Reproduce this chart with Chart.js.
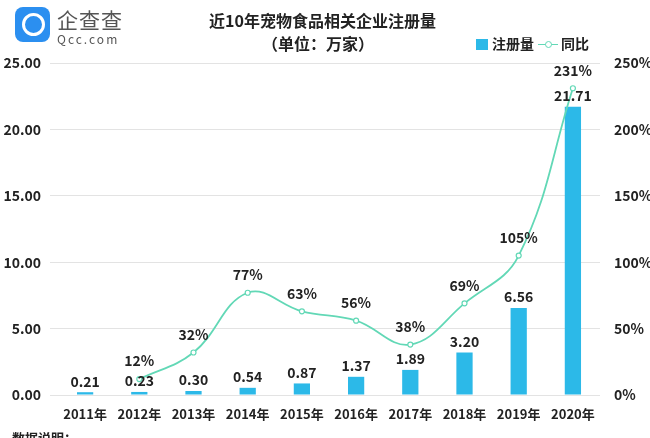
<!DOCTYPE html>
<html>
<head>
<meta charset="utf-8">
<script src="https://cdn.jsdelivr.net/npm/chart.js@4/dist/chart.umd.min.js"></script>
<style>
  html, body { margin: 0; padding: 0; background: #fff; }
  body { width: 650px; height: 438px; position: relative; overflow: hidden;
         font-family: "Noto Sans CJK SC", "Noto Sans", sans-serif; color: #222; }
  #wrap { position: absolute; left: 0; top: 0; width: 650px; height: 438px; }
  .logo-icon { position: absolute; left: 15px; top: 7px; width: 35px; height: 35px;
               border-radius: 8px; background: #2b8ff0; }
  .logo-icon span { position: absolute; left: 7px; top: 6px; width: 17px; height: 17px;
                    border: 3px solid #fff; border-radius: 50%; }
  .logo-cn { position: absolute; left: 57px; top: 4px; font-size: 21px; color: #555; letter-spacing: 1px; }
  .logo-en { position: absolute; left: 57px; top: 30px; font-size: 12px; color: #555; letter-spacing: 2px; }
  .title { position: absolute; width: 300px; text-align: left; font-weight: bold; color: #222; }
  .t1 { top: 8px; font-size: 16px; left: 209px; }
  .t2 { top: 31px; font-size: 16px; left: 262px; }
  .legend { position: absolute; left: 476px; top: 33px; font-size: 14px; font-weight: bold; color: #222; }
  .legend .box { display: inline-block; width: 12px; height: 11px; background: #2cb9e8; vertical-align: -1px; margin-right: 4px; }
  .legend .ln { display: inline-block; width: 20px; height: 10px; position: relative; vertical-align: 0; margin: 0 3px 0 4px; }
  .legend .ln:before { content: ""; position: absolute; left: 0; right: 0; top: 5px; border-top: 1.5px solid #62d8b6; }
  .legend .ln:after { content: ""; position: absolute; left: 7px; top: 2px; width: 5px; height: 5px; border: 1.5px solid #62d8b6; border-radius: 50%; background: #fff; }
  .note { position: absolute; left: 12px; top: 428px; font-size: 13px; font-weight: bold; }
</style>
</head>
<body>
<div id="wrap"><canvas id="chart" width="650" height="438"></canvas></div>
<div class="logo-icon"><span></span></div>
<div class="logo-cn">企查查</div>
<div class="logo-en">Qcc.com</div>
<div class="title t1">近10年宠物食品相关企业注册量</div>
<div class="title t2">（单位：万家）</div>
<div class="legend"><span class="box"></span>注册量<span class="ln"></span>同比</div>
<div class="note">数据说明：</div>
<script>
// data
const years = ["2011年", "2012年", "2013年", "2014年", "2015年", "2016年", "2017年", "2018年", "2019年", "2020年"];
const registrations = [0.21, 0.23, 0.30, 0.54, 0.87, 1.37, 1.89, 3.20, 6.56, 21.71];
const yoyGrowth = [null, 12, 32, 77, 63, 56, 38, 69, 105, 231];
const leftTicks = [0, 5, 10, 15, 20, 25];
const rightTicks = [0, 50, 100, 150, 200, 250];

const colors = {
  bar: "#2cb9e8",
  line: "#62d8b6",
  grid: "#e3e3e3",
  text: "#222"
};
const labelFont = "bold 14px 'Noto Sans CJK SC', 'Noto Sans', sans-serif";

// draws the value labels above bars and line points
const valueLabels = {
  id: "valueLabels",
  afterDatasetsDraw(chart) {
    const ctx = chart.ctx;
    ctx.save();
    ctx.font = labelFont;
    ctx.fillStyle = colors.text;
    ctx.textAlign = "center";
    ctx.textBaseline = "bottom";
    chart.getDatasetMeta(0).data.forEach((el, i) => {
      ctx.fillText(registrations[i].toFixed(2), el.x, el.y - 4);
    });
    chart.getDatasetMeta(1).data.forEach((el, i) => {
      if (yoyGrowth[i] == null) return;
      ctx.fillText(yoyGrowth[i] + "%", el.x, el.y - 11);
    });
    ctx.restore();
  }
};

const tickFont = { size: 13, weight: "bold", family: "'Noto Sans CJK SC', 'Noto Sans', sans-serif" };

new Chart(document.getElementById("chart"), {
  data: {
    labels: years,
    datasets: [
      {
        type: "bar",
        label: "注册量",
        data: registrations,
        backgroundColor: colors.bar,
        barPercentage: 0.6,
        categoryPercentage: 0.5,
        yAxisID: "y",
        order: 2
      },
      {
        type: "line",
        label: "同比",
        data: yoyGrowth,
        borderColor: colors.line,
        borderWidth: 1.8,
        backgroundColor: "#fff",
        pointBorderColor: colors.line,
        pointBackgroundColor: "#fff",
        pointRadius: 2.5,
        pointBorderWidth: 1.2,
        tension: 0.4,
        yAxisID: "y1",
        order: 1
      }
    ]
  },
  options: {
    responsive: false,
    animation: false,
    layout: { padding: { top: 63, left: 0, right: 0, bottom: 0 } },
    plugins: { legend: { display: false }, tooltip: { enabled: false } },
    scales: {
      x: {
        grid: { display: false },
        border: { display: false },
        ticks: { color: colors.text, font: tickFont, padding: 3, maxRotation: 0 },
        afterFit(axis) { axis.height = 43; }
      },
      y: {
        position: "left",
        min: 0,
        max: 25,
        afterBuildTicks(axis) { axis.ticks = leftTicks.map(v => ({ value: v })); },
        grid: { color: colors.grid, lineWidth: 1 },
        border: { display: false },
        ticks: { color: colors.text, font: { ...tickFont, size: 14 }, padding: 9, callback: v => v.toFixed(2) },
        afterFit(axis) { axis.width = 58; }
      },
      y1: {
        position: "right",
        min: 0,
        max: 250,
        afterBuildTicks(axis) { axis.ticks = rightTicks.map(v => ({ value: v })); },
        grid: { display: false },
        border: { display: false },
        ticks: { color: colors.text, font: { ...tickFont, size: 14 }, padding: 6, callback: v => v + "%" },
        afterFit(axis) { axis.width = 50; }
      }
    }
  },
  plugins: [valueLabels]
});
</script>
</body>
</html>
